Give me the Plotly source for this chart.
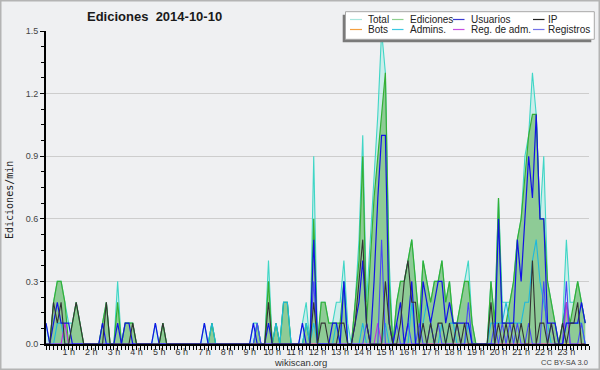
import plotly.graph_objects as go

# ---- data: 10-minute bins over the day (edits per minute) ----
total = [
    0.1, 0, 0.2, 0.3, 0.3, 0.2, 0.1, 0.1, 0.2, 0.1, 0, 0, 0, 0, 0, 0.1, 0.2, 0, 0, 0.3, 0, 0.1, 0.1, 0.1,
    0, 0, 0, 0, 0, 0.1, 0, 0.1, 0, 0, 0, 0, 0, 0, 0, 0, 0, 0, 0.1, 0, 0.1, 0, 0, 0,
    0, 0, 0, 0, 0, 0, 0, 0.1, 0.1, 0, 0, 0.4, 0, 0.1, 0, 0.2, 0.2, 0, 0, 0, 0.1, 0.2, 0, 0.9,
    0, 0.2, 0.2, 0.1, 0.1, 0.2, 0.2, 0.4, 0.1, 0, 0.2, 0.5, 1.0, 0.2, 0.5, 0.8, 1.1, 1.5, 1.3, 0.4, 0, 0.2, 0.3, 0.3,
    0.4, 0.5, 0.3, 0.1, 0.4, 0.3, 0.2, 0.3, 0.3, 0.4, 0.2, 0.3, 0.1, 0.1, 0.2, 0.3, 0.4, 0.1, 0, 0, 0, 0, 0.3, 0.1,
    0.7, 0.2, 0.2, 0.2, 0.3, 0.5, 0.6, 0.9, 1.0, 1.3, 1.1, 0.6, 0.9, 0.3, 0.2, 0.1, 0, 0.1, 0.5, 0.2, 0.2, 0.3, 0.2, 0.1,
]
ediciones = [
    0, 0, 0.2, 0.3, 0.3, 0.2, 0, 0.1, 0.2, 0.1, 0, 0, 0, 0, 0, 0.1, 0.2, 0, 0, 0.2, 0, 0.1, 0.1, 0.1,
    0, 0, 0, 0, 0, 0, 0, 0.1, 0, 0, 0, 0, 0, 0, 0, 0, 0, 0, 0, 0, 0.1, 0, 0, 0,
    0, 0, 0, 0, 0, 0, 0, 0, 0.1, 0, 0, 0.3, 0, 0.1, 0, 0.2, 0.2, 0, 0, 0, 0, 0.1, 0, 0.6,
    0, 0.2, 0.2, 0.1, 0.1, 0.1, 0.1, 0.3, 0, 0, 0.2, 0.4, 0.9, 0.1, 0.4, 0.7, 0.9, 1.1, 1.3, 0.3, 0, 0.2, 0.3, 0.3,
    0.4, 0.5, 0.3, 0.1, 0.4, 0.3, 0.2, 0.3, 0.3, 0.4, 0.2, 0.3, 0.1, 0.1, 0.2, 0.3, 0.3, 0.1, 0, 0, 0, 0, 0.3, 0.1,
    0.7, 0.1, 0.1, 0.2, 0.3, 0.5, 0.6, 0.8, 1.0, 1.1, 1.1, 0.6, 0.6, 0.3, 0.2, 0.1, 0, 0.1, 0.2, 0.1, 0.2, 0.3, 0.2, 0.1,
]
usuarios = [
    0.1, 0, 0.1, 0.2, 0.1, 0.1, 0.1, 0, 0, 0, 0, 0, 0, 0, 0, 0.1, 0, 0, 0, 0.1, 0, 0.1, 0.1, 0,
    0, 0, 0, 0, 0, 0.1, 0, 0, 0, 0, 0, 0, 0, 0, 0, 0, 0, 0, 0.1, 0, 0, 0, 0, 0,
    0, 0, 0, 0, 0, 0, 0, 0.1, 0, 0, 0, 0.1, 0, 0, 0, 0, 0, 0, 0, 0, 0.1, 0, 0, 0.5,
    0, 0, 0, 0, 0.1, 0.1, 0, 0.3, 0, 0, 0.1, 0.2, 0.4, 0.1, 0, 0.3, 0.7, 1.0, 1.0, 0.1, 0, 0.1, 0.2, 0,
    0.1, 0.3, 0, 0, 0.3, 0.2, 0.1, 0.2, 0.3, 0.3, 0.1, 0.2, 0.1, 0.1, 0.1, 0.1, 0.1, 0, 0, 0, 0, 0, 0, 0,
    0.6, 0.1, 0.1, 0.1, 0.1, 0.5, 0.3, 0.6, 0.9, 0.7, 1.1, 0.6, 0.6, 0.1, 0.1, 0.1, 0, 0, 0.1, 0.1, 0.1, 0.1, 0.2, 0.1,
]
ip = [
    0, 0, 0.2, 0.1, 0.2, 0, 0, 0.1, 0.2, 0.1, 0, 0, 0, 0, 0, 0, 0.2, 0, 0, 0, 0, 0, 0, 0.1,
    0, 0, 0, 0, 0, 0, 0, 0.1, 0, 0, 0, 0, 0, 0, 0, 0, 0, 0, 0, 0, 0, 0, 0, 0,
    0, 0, 0, 0, 0, 0, 0, 0, 0, 0, 0, 0.2, 0, 0, 0, 0, 0, 0, 0, 0, 0, 0, 0, 0.2,
    0, 0.1, 0.1, 0, 0, 0, 0.1, 0.1, 0, 0, 0.1, 0.3, 0.5, 0.1, 0, 0, 0, 0, 0.3, 0.1, 0, 0, 0.1, 0.3,
    0.4, 0.2, 0.2, 0, 0.1, 0, 0.1, 0, 0.1, 0.1, 0, 0.1, 0, 0.1, 0, 0.1, 0, 0, 0, 0, 0, 0, 0.2, 0,
    0.1, 0, 0.1, 0, 0.1, 0, 0.1, 0, 0, 0.4, 0, 0.1, 0.1, 0, 0.1, 0, 0, 0.1, 0, 0.1, 0.1, 0.2, 0, 0,
]
bots = [
    0, 0, 0, 0, 0, 0, 0, 0, 0, 0, 0, 0, 0, 0, 0, 0, 0, 0, 0, 0, 0, 0, 0, 0,
    0, 0, 0, 0, 0, 0, 0, 0, 0, 0, 0, 0, 0, 0, 0, 0, 0, 0, 0, 0, 0, 0, 0, 0,
    0, 0, 0, 0, 0, 0, 0, 0, 0, 0, 0, 0, 0, 0, 0, 0, 0, 0, 0, 0, 0, 0, 0, 0,
    0, 0, 0, 0, 0, 0, 0, 0, 0, 0, 0, 0, 0, 0, 0, 0, 0, 0, 0, 0, 0, 0, 0, 0,
    0, 0, 0, 0, 0, 0, 0, 0, 0, 0, 0, 0, 0, 0, 0, 0, 0, 0, 0, 0, 0, 0, 0, 0,
    0, 0, 0, 0, 0, 0, 0, 0, 0, 0, 0, 0, 0, 0, 0, 0, 0, 0, 0, 0, 0, 0, 0, 0,
]
admins = [
    0, 0, 0, 0.1, 0.1, 0, 0, 0, 0, 0, 0, 0, 0, 0, 0, 0, 0, 0, 0, 0, 0, 0, 0, 0,
    0, 0, 0, 0, 0, 0, 0, 0, 0, 0, 0, 0, 0, 0, 0, 0, 0, 0, 0, 0, 0.1, 0, 0, 0,
    0, 0, 0, 0, 0, 0, 0, 0, 0.1, 0, 0, 0, 0, 0.1, 0, 0.2, 0.2, 0, 0, 0, 0, 0.1, 0, 0.1,
    0, 0, 0, 0, 0, 0.1, 0, 0.3, 0, 0, 0, 0, 0.1, 0, 0, 0, 0, 0, 0.1, 0, 0, 0, 0, 0,
    0, 0.2, 0, 0, 0.1, 0.2, 0.1, 0, 0, 0.1, 0, 0.1, 0.1, 0, 0, 0, 0.1, 0, 0, 0, 0, 0, 0.1, 0.1,
    0.1, 0.1, 0.2, 0.1, 0.1, 0.1, 0.1, 0.2, 0.2, 0.4, 0.5, 0.3, 0.2, 0.1, 0, 0, 0, 0, 0.1, 0.1, 0.1, 0.1, 0.1, 0,
]
reg_adm = [
    0, 0, 0, 0, 0, 0.1, 0, 0, 0, 0, 0, 0, 0, 0, 0, 0, 0, 0, 0, 0, 0, 0, 0, 0,
    0, 0, 0, 0, 0, 0, 0, 0, 0, 0, 0, 0, 0, 0, 0, 0, 0, 0, 0, 0, 0, 0, 0, 0,
    0, 0, 0, 0, 0, 0, 0, 0, 0, 0, 0, 0, 0, 0, 0, 0, 0, 0, 0, 0, 0, 0, 0, 0,
    0, 0, 0, 0, 0, 0, 0, 0, 0, 0, 0, 0, 0, 0, 0, 0, 0.1, 0, 0, 0, 0, 0, 0, 0,
    0, 0, 0, 0, 0, 0, 0, 0, 0, 0, 0, 0, 0, 0, 0, 0, 0, 0, 0, 0, 0, 0, 0, 0,
    0, 0, 0, 0, 0, 0, 0, 0, 0, 0, 0, 0, 0, 0, 0, 0, 0, 0, 0.2, 0, 0, 0, 0, 0,
]
registros = [
    0, 0, 0, 0, 0, 0, 0, 0, 0, 0, 0, 0, 0, 0, 0, 0, 0, 0, 0, 0, 0, 0, 0, 0,
    0, 0, 0, 0, 0, 0, 0, 0, 0, 0, 0, 0, 0, 0, 0, 0, 0, 0, 0, 0, 0, 0, 0, 0,
    0, 0, 0, 0, 0, 0, 0, 0, 0.1, 0, 0, 0, 0, 0, 0, 0, 0, 0, 0, 0, 0, 0, 0, 0.3,
    0, 0, 0, 0, 0, 0, 0, 0, 0, 0, 0, 0, 0, 0.1, 0, 0, 0, 0.5, 0, 0, 0, 0.1, 0, 0,
    0.1, 0, 0, 0.1, 0, 0, 0.1, 0, 0.1, 0, 0, 0, 0, 0.1, 0, 0, 0.2, 0, 0, 0, 0, 0, 0, 0.1,
    0, 0.1, 0, 0.1, 0, 0.1, 0, 0, 0.1, 0, 0, 0, 0.3, 0, 0.1, 0, 0, 0, 0.3, 0, 0, 0, 0.1, 0,
]

hour_ticks = [1, 2, 3, 4, 5, 6, 7, 8, 9, 10, 11, 12, 13, 14, 15, 16, 17, 18, 19, 20, 21, 22, 23]
hour_labels = ["1 h", "2 h", "3 h", "4 h", "5 h", "6 h", "7 h", "8 h", "9 h", "10 h", "11 h", "12 h",
               "13 h", "14 h", "15 h", "16 h", "17 h", "18 h", "19 h", "20 h", "21 h", "22 h", "23 h"]
y_ticks = [0, 0.3, 0.6, 0.9, 1.2, 1.5]
y_labels = ["0.0", "0.3", "0.6", "0.9", "1.2", "1.5"]

legend_names = ["Total", "Ediciones", "Usuarios", "IP", "Bots", "Admins.", "Reg. de adm.", "Registros"]

# ---- geometry ----
FW, FH = 600, 370
L, R, T, B = 46, 589, 31, 344
W, H = R - L, B - T


def px(x):
    return (x - L) / W


def py(y):
    return (B - y) / H


hours = [i / 6 for i in range(len(total))]
FONT = "Liberation Sans, Arial, sans-serif"

fig = go.Figure()

styles = {
    "Total": dict(color="#3fd6c6", fill="tozeroy", fillcolor="rgba(160,232,224,0.45)", width=1.1),
    "Ediciones": dict(color="#35b035", fill="tozeroy", fillcolor="rgba(118,190,118,0.72)", width=1.2),
    "Usuarios": dict(color="#1212e6", fill=None, fillcolor=None, width=1.2),
    "IP": dict(color="#333333", fill=None, fillcolor=None, width=1.1),
    "Bots": dict(color="#ff9a2e", fill=None, fillcolor=None, width=1),
    "Admins.": dict(color="#1eb8de", fill=None, fillcolor=None, width=1.1),
    "Reg. de adm.": dict(color="#c02ee0", fill=None, fillcolor=None, width=1.1),
    "Registros": dict(color="#4848f5", fill=None, fillcolor=None, width=1.1),
}
data_map = {"Total": total, "Ediciones": ediciones, "Usuarios": usuarios, "IP": ip,
            "Bots": bots, "Admins.": admins, "Reg. de adm.": reg_adm, "Registros": registros}
draw_order = ["Total", "Ediciones", "Bots", "Admins.", "Reg. de adm.", "Registros", "Usuarios", "IP"]

for name in draw_order:
    st = styles[name]
    kw = dict(x=hours, y=data_map[name], mode="lines", name=name,
              line=dict(color=st["color"], width=st["width"]), showlegend=False, hoverinfo="skip")
    if st["fill"]:
        kw["fill"] = st["fill"]
        kw["fillcolor"] = st["fillcolor"]
    fig.add_trace(go.Scatter(**kw))

shapes = []
annotations = []

# outer frame
shapes.append(dict(type="rect", xref="paper", yref="paper",
                   x0=px(0.75), x1=px(599.25), y0=py(369.25), y1=py(0.75),
                   line=dict(color="#b4b4b4", width=1.5), fillcolor="rgba(0,0,0,0)", layer="below"))

# legend box (manual, 4 columns x 2 rows)
shapes.append(dict(type="rect", xref="paper", yref="paper",
                   x0=px(342.7), x1=px(591.3), y0=py(42.3), y1=py(14.7),
                   line=dict(width=0), fillcolor="#7a7a7a", layer="above"))
shapes.append(dict(type="rect", xref="paper", yref="paper",
                   x0=px(345.5), x1=px(594.3), y0=py(39.3), y1=py(11.7),
                   line=dict(color="#a8a8a8", width=1), fillcolor="#ffffff", layer="above"))
swatch_colors = {"Total": "#a8e6de", "Ediciones": "#8fd08f", "Usuarios": "#3a3ad2", "IP": "#222222",
                 "Bots": "#f4a040", "Admins.": "#3cc8e2", "Reg. de adm.": "#c64ee2", "Registros": "#7474e8"}
col_swatch = [(350, 362), (392, 403.5), (453, 464.5), (533, 544.5)]
col_text = [365.5, 408, 469, 545.5]
row_y = [19.5, 29.5]
for k, name in enumerate(legend_names):
    r, c = divmod(k, 4)
    sx0, sx1 = col_swatch[c]
    shapes.append(dict(type="line", xref="paper", yref="paper",
                       x0=px(sx0), x1=px(sx1), y0=py(row_y[r]), y1=py(row_y[r]),
                       line=dict(color=swatch_colors[name], width=1.2), layer="above"))
    annotations.append(dict(text=name, xref="paper", yref="paper", x=px(col_text[c]), y=py(row_y[r]),
                            xanchor="left", yanchor="middle", showarrow=False,
                            font=dict(family=FONT, size=10, color="#222222")))

# title
annotations.append(dict(text="<b>Ediciones\u00a0\u00a02014-10-10</b>", xref="paper", yref="paper",
                        x=px(154), y=py(16.5), xanchor="center", yanchor="middle", showarrow=False,
                        font=dict(family=FONT, size=13, color="#1a1a1a")))
# y axis title
annotations.append(dict(text="Ediciones/min", xref="paper", yref="paper", x=px(9), y=py(200),
                        xanchor="center", yanchor="middle", showarrow=False, textangle=-90,
                        font=dict(family="DejaVu Sans Mono, monospace", size=10, color="#222222")))
# footer texts
annotations.append(dict(text="wikiscan.org", xref="paper", yref="paper", x=px(300.5), y=py(362.5),
                        xanchor="center", yanchor="middle", showarrow=False,
                        font=dict(family=FONT, size=9.5, color="#333333")))
annotations.append(dict(text="CC BY-SA 3.0", xref="paper", yref="paper", x=px(590), y=py(362.5),
                        xanchor="right", yanchor="middle", showarrow=False,
                        font=dict(family=FONT, size=7.5, color="#444444")))

fig.update_layout(
    width=FW, height=FH,
    margin=dict(l=L, r=FW - R, t=T, b=FH - B, pad=0, autoexpand=False),
    paper_bgcolor="#eff0f2", plot_bgcolor="#eff0f2",
    showlegend=False,
    shapes=shapes, annotations=annotations,
    font=dict(family=FONT, size=9, color="#444444"),
    xaxis=dict(range=[0, 24], tickmode="array", tickvals=hour_ticks, ticktext=hour_labels,
               ticks="outside", ticklen=4, tickwidth=1, tickcolor="#000000",
               showline=True, linecolor="#000000", linewidth=2, showgrid=False, zeroline=False,
               tickfont=dict(family=FONT, size=9, color="#333333"), automargin=False,
               minor=dict(tickmode="linear", tick0=0, dtick=1 / 6, ticks="outside", ticklen=4,
                          tickcolor="#000000", showgrid=False),
               fixedrange=True),
    yaxis=dict(range=[0, 1.5], tickmode="array", tickvals=y_ticks, ticktext=y_labels,
               ticks="outside", ticklen=4, tickwidth=1, tickcolor="#000000",
               showline=True, linecolor="#000000", linewidth=2,
               showgrid=True, gridcolor="#cdcdcd", gridwidth=1, zeroline=False,
               tickfont=dict(family=FONT, size=9, color="#444444"), automargin=False,
               minor=dict(tickmode="linear", tick0=0, dtick=0.075, ticks="outside", ticklen=3,
                          tickcolor="#000000", showgrid=False),
               fixedrange=True),
)
try:
    fig.update_xaxes(ticklabelstandoff=-6)
except Exception:
    pass

fig.write_html("out.html", config={"displayModeBar": False},
               post_script="document.body.style.margin='0px';document.body.style.overflow='hidden';")
